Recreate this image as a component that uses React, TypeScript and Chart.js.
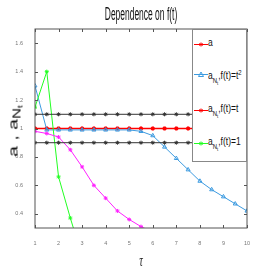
import React, { useEffect, useRef } from "react";
import { Chart, registerables } from "chart.js";

Chart.register(...registerables);

// ---- data ----
const tau = [1, 1.5, 2, 2.5, 3, 3.5, 4, 4.5, 5, 5.5, 6, 6.5, 7, 7.5, 8, 8.5, 9, 9.5, 10];
const aValues = [1, 1, 1, 1, 1, 1, 1, 1, 1, 1, 1, 1, 1, 1, 1, 1, 1, 1, 1];
const upperBound = [1.1, 1.1, 1.1, 1.1, 1.1, 1.1, 1.1, 1.1, 1.1, 1.1, 1.1, 1.1, 1.1, 1.1, 1.1, 1.1, 1.1, 1.1, 1.1];
const lowerBound = [0.9, 0.9, 0.9, 0.9, 0.9, 0.9, 0.9, 0.9, 0.9, 0.9, 0.9, 0.9, 0.9, 0.9, 0.9, 0.9, 0.9, 0.9, 0.9];
const aNtSquare = [1.3, 0.99, 0.99, 0.99, 0.99, 0.99, 0.99, 0.99, 0.99, 0.98, 0.95, 0.87, 0.79, 0.71, 0.63, 0.57, 0.52, 0.47, 0.42];
const aNtLinear = [0.98, 0.965, 0.94, 0.85, 0.73, 0.6, 0.51, 0.42, 0.36, 0.31, 0.27];
const aNtConst = [1.15, 1.4, 0.66, 0.37, 0.1];
const xTicks = [1, 2, 3, 4, 5, 6, 7, 8, 9, 10];
const yTicks = [0.4, 0.6, 0.8, 1.0, 1.2, 1.4, 1.6];
const yTickLabels = ["0.4", "0.6", "0.8", "1", "1.2", "1.4", "1.6"];

const RED = "#ff0000";
const BLUE = "#3d9be0";
const MAGENTA = "#ff22ff";
const GREEN = "#22ff22";
const BLACK = "#333333";

const toXY = (vals: number[]) => vals.map((v, i) => ({ x: tau[i], y: v }));

const framePlugin = {
  id: "frame",
  afterDatasetsDraw(chart: any) {
    const { ctx, chartArea, scales } = chart;
    const { left, right, top, bottom } = chartArea;
    ctx.save();
    ctx.strokeStyle = "#555";
    ctx.lineWidth = 1;
    ctx.strokeRect(left, top, right - left, bottom - top);
    ctx.beginPath();
    xTicks.forEach((v) => {
      const px = Math.round(scales.x.getPixelForValue(v)) + 0.5;
      ctx.moveTo(px, bottom);
      ctx.lineTo(px, bottom - 3);
      ctx.moveTo(px, top);
      ctx.lineTo(px, top + 3);
    });
    yTicks.forEach((v) => {
      const py = Math.round(scales.y.getPixelForValue(v)) + 0.5;
      ctx.moveTo(left, py);
      ctx.lineTo(left + 3, py);
      ctx.moveTo(right, py);
      ctx.lineTo(right - 3, py);
    });
    ctx.stroke();
    ctx.restore();
  },
};

function Swatch({ color, marker }: { color: string; marker: "star" | "triangle" }) {
  return (
    <svg width={15} height={7} style={{ position: "absolute", left: 1, top: -3 }}>
      <line x1={0} y1={3.5} x2={14} y2={3.5} stroke={color} strokeWidth={1} />
      {marker === "triangle" ? (
        <polygon points="7,1 9.5,5.5 4.5,5.5" fill="none" stroke={color} strokeWidth={1} />
      ) : (
        <g stroke={color} strokeWidth={1}>
          <line x1={7} y1={1.5} x2={7} y2={5.5} />
          <line x1={5.3} y1={2.5} x2={8.7} y2={4.5} />
          <line x1={5.3} y1={4.5} x2={8.7} y2={2.5} />
        </g>
      )}
    </svg>
  );
}

function LegendLabel({ suffix }: { suffix?: React.ReactNode }) {
  return (
    <span
      style={{
        position: "absolute",
        left: 15,
        top: -7,
        fontFamily: "Liberation Sans, Arial, sans-serif",
        fontSize: 10,
        lineHeight: "12px",
        whiteSpace: "nowrap",
        transform: "scaleX(0.85)",
        transformOrigin: "left center",
        color: "#111",
      }}
    >
      a
      {suffix}
    </span>
  );
}

const ntSub = (
  <sub style={{ fontSize: 7, verticalAlign: "-4px" }}>
    N<sub style={{ fontSize: 5, verticalAlign: "-2px" }}>t</sub>
  </sub>
);

export default function App() {
  const canvasRef = useRef<HTMLCanvasElement | null>(null);

  useEffect(() => {
    if (!canvasRef.current) return;
    const chart = new Chart(canvasRef.current, {
      type: "line",
      data: {
        datasets: [
          {
            label: "upper",
            data: toXY(upperBound),
            borderColor: BLACK,
            backgroundColor: BLACK,
            borderWidth: 1,
            pointStyle: "star",
            pointRadius: 2,
            pointBorderWidth: 1,
            clip: 0,
          },
          {
            label: "lower",
            data: toXY(lowerBound),
            borderColor: BLACK,
            backgroundColor: BLACK,
            borderWidth: 1,
            pointStyle: "star",
            pointRadius: 2,
            pointBorderWidth: 1,
            clip: 0,
          },
          {
            label: "a_Nt, f(t)=t",
            data: toXY(aNtLinear),
            borderColor: MAGENTA,
            backgroundColor: MAGENTA,
            borderWidth: 1,
            pointStyle: "star",
            pointRadius: 2,
            pointBorderWidth: 1,
            clip: 0,
          },
          {
            label: "a_Nt, f(t)=1",
            data: toXY(aNtConst),
            borderColor: GREEN,
            backgroundColor: GREEN,
            borderWidth: 1,
            pointStyle: "star",
            pointRadius: 2,
            pointBorderWidth: 1,
            clip: 0,
          },
          {
            label: "a_Nt, f(t)=t^2",
            data: toXY(aNtSquare),
            borderColor: BLUE,
            backgroundColor: "rgba(0,0,0,0)",
            borderWidth: 1,
            pointStyle: "triangle",
            pointRadius: 2.3,
            pointBorderWidth: 1,
            clip: 0,
          },
          {
            label: "a",
            data: toXY(aValues),
            borderColor: RED,
            backgroundColor: RED,
            borderWidth: 1.5,
            pointStyle: "star",
            pointRadius: 2,
            pointBorderWidth: 1.5,
            clip: 0,
          },
        ],
      },
      options: {
        responsive: false,
        animation: false,
        events: [],
        layout: { padding: { left: 0, right: 26, top: 29, bottom: 0 } },
        plugins: {
          legend: { display: false },
          title: { display: false },
          tooltip: { enabled: false },
        },
        scales: {
          x: {
            type: "linear",
            min: 1,
            max: 10,
            afterFit: (s: any) => {
              s.height = 45;
            },
            afterBuildTicks: (s: any) => {
              s.ticks = xTicks.map((v) => ({ value: v }));
            },
            grid: { display: false },
            border: { display: false },
            ticks: {
              font: { size: 5.5, family: "Liberation Sans, Arial, sans-serif" },
              color: "#777",
              padding: 4,
              maxRotation: 0,
            },
          },
          y: {
            type: "linear",
            min: 0.3,
            max: 1.7,
            afterFit: (s: any) => {
              s.width = 35;
            },
            afterBuildTicks: (s: any) => {
              s.ticks = yTicks.map((v) => ({ value: v }));
            },
            grid: { display: false },
            border: { display: false },
            ticks: {
              font: { size: 5.5, family: "Liberation Sans, Arial, sans-serif" },
              color: "#777",
              padding: 4,
              callback: (v: any) => {
                const i = yTicks.findIndex((t) => Math.abs(t - Number(v)) < 1e-9);
                return i >= 0 ? yTickLabels[i] : "";
              },
            },
          },
        },
      },
      plugins: [framePlugin],
    });
    return () => chart.destroy();
  }, []);

  return (
    <div
      style={{
        position: "fixed",
        left: 0,
        top: 0,
        width: 273,
        height: 273,
        background: "#fff",
        overflow: "hidden",
      }}
    >
      <canvas ref={canvasRef} width={273} height={273} style={{ width: 273, height: 273, display: "block" }} />
      {/* title */}
      <div
        style={{
          position: "absolute",
          left: 141,
          top: 14,
          transform: "translate(-50%, -50%) scaleX(0.47)",
          fontFamily: "Liberation Sans, Arial, sans-serif",
          fontSize: 18,
          whiteSpace: "nowrap",
          color: "#111",
        }}
      >
        Dependence on f(t)
      </div>
      {/* x title */}
      <div
        style={{
          position: "absolute",
          left: 141,
          top: 261,
          transform: "translate(-50%, -50%) scaleX(0.6)",
          fontFamily: "Liberation Serif, serif",
          fontStyle: "italic",
          fontSize: 17,
          whiteSpace: "nowrap",
          color: "#222",
        }}
      >
        τ
      </div>
      {/* y title */}
      <div
        style={{
          position: "absolute",
          left: 17,
          top: 131,
          transform: "translate(-50%, -50%) rotate(-90deg) scaleX(1.5)",
          fontFamily: "Liberation Sans, Arial, sans-serif",
          fontSize: 13,
          whiteSpace: "nowrap",
          color: "#111",
          lineHeight: "16px",
        }}
      >
        a , a
        <sub style={{ fontSize: 10, verticalAlign: "-3px" }}>
          N<sub style={{ fontSize: 7, verticalAlign: "-2px" }}>t</sub>
        </sub>
      </div>
      {/* legend */}
      <div
        style={{
          position: "absolute",
          left: 192,
          top: 29,
          width: 55,
          height: 133,
          border: "1px solid #888",
          background: "#fff",
          boxSizing: "border-box",
        }}
      >
        <div style={{ position: "absolute", left: 0, top: 14 }}>
          <Swatch color={RED} marker="star" />
          <LegendLabel />
        </div>
        <div style={{ position: "absolute", left: 0, top: 44 }}>
          <Swatch color={BLUE} marker="triangle" />
          <LegendLabel
            suffix={
              <>
                {ntSub}
                ,f(t)=t<sup style={{ fontSize: 7, verticalAlign: "4px" }}>2</sup>
              </>
            }
          />
        </div>
        <div style={{ position: "absolute", left: 0, top: 80 }}>
          <Swatch color={RED} marker="star" />
          <LegendLabel suffix={<>{ntSub},f(t)=t</>} />
        </div>
        <div style={{ position: "absolute", left: 0, top: 113 }}>
          <Swatch color={GREEN} marker="star" />
          <LegendLabel suffix={<>{ntSub},f(t)=1</>} />
        </div>
      </div>
    </div>
  );
}
